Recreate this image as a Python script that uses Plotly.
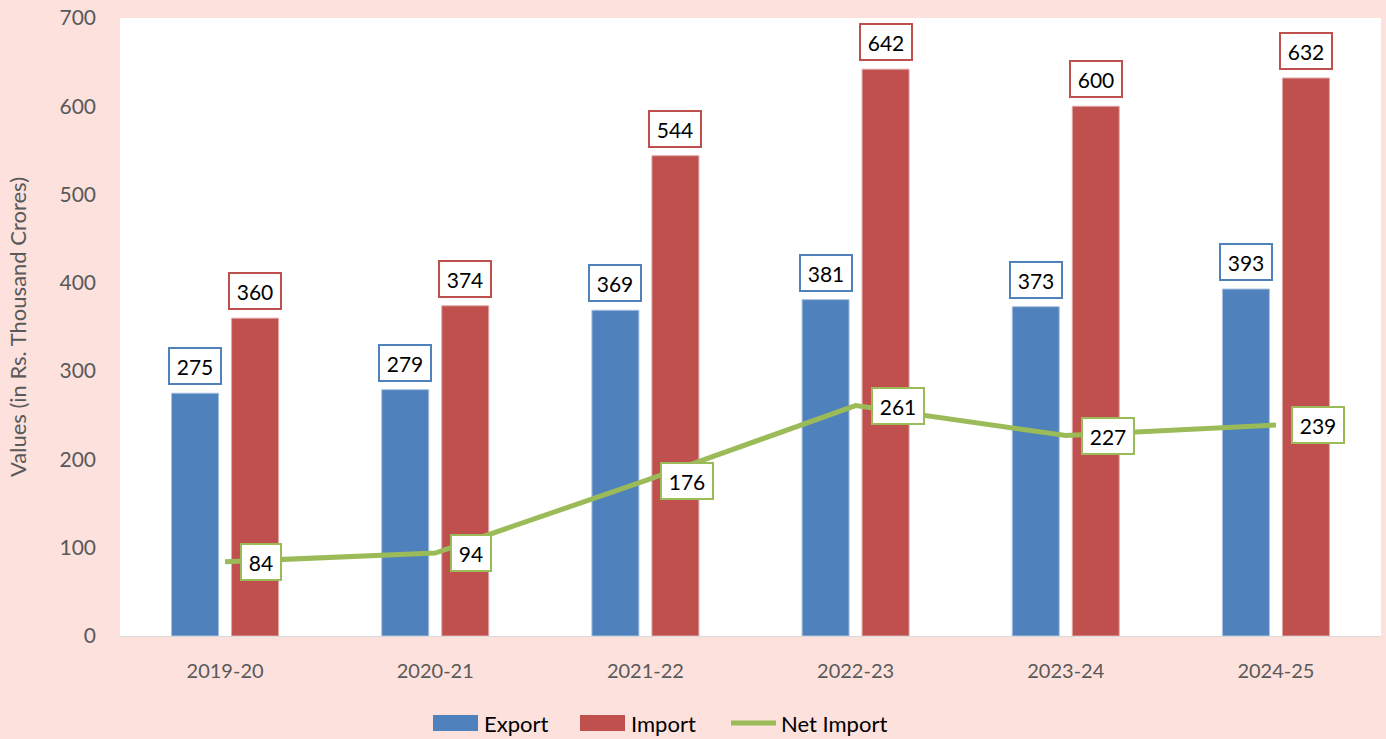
import plotly.graph_objects as go

years = ["2019-20", "2020-21", "2021-22", "2022-23", "2023-24", "2024-25"]
export_vals = [275, 279, 369, 381, 373, 393]
import_vals = [360, 374, 544, 642, 600, 632]
net_import = [84, 94, 176, 261, 227, 239]

C_EXP = "#4F81BD"
C_IMP = "#C0504D"
C_NET = "#9BBB59"
BG = "#FCE1DD"
FONT = "Lato, 'Open Sans', sans-serif"

fig = go.Figure()
fig.add_trace(go.Bar(x=years, y=export_vals, name="Export", showlegend=False,
                     marker=dict(color=C_EXP, line=dict(color="#A9C1E0", width=1))))
fig.add_trace(go.Bar(x=years, y=import_vals, name="Import", showlegend=False,
                     marker=dict(color=C_IMP, line=dict(color="#E0A8A6", width=1))))
fig.add_trace(go.Scatter(x=years, y=net_import, name="Net Import", mode="lines", showlegend=False,
                         line=dict(color=C_NET, width=5)))


def box_w(v):
    return 12 * len(str(v)) + 14


anns = []
for yr, v in zip(years, export_vals):
    anns.append(dict(x=yr, y=v, xref="x", yref="y", text=str(v), showarrow=False,
                     xshift=-30, yanchor="bottom", yshift=8, width=box_w(v), height=34,
                     font=dict(size=21, color="black", family=FONT),
                     bgcolor="white", bordercolor=C_EXP, borderwidth=2, borderpad=0))
for yr, v in zip(years, import_vals):
    anns.append(dict(x=yr, y=v, xref="x", yref="y", text=str(v), showarrow=False,
                     xshift=30, yanchor="bottom", yshift=8, width=box_w(v), height=34,
                     font=dict(size=21, color="black", family=FONT),
                     bgcolor="white", bordercolor=C_IMP, borderwidth=2, borderpad=0))
for yr, v in zip(years, net_import):
    anns.append(dict(x=yr, y=v, xref="x", yref="y", text=str(v), showarrow=False,
                     xanchor="left", xshift=15, yanchor="middle", width=box_w(v), height=34,
                     font=dict(size=21, color="black", family=FONT),
                     bgcolor="white", bordercolor=C_NET, borderwidth=2, borderpad=0))

# manual legend (paper coordinates)
PW, PH = 1261.0, 618.0


def px2x(px):
    return (px - 120) / PW


def py2y(py):
    return (636 - py) / PH


shapes = [
    dict(type="rect", xref="paper", yref="paper", x0=px2x(433), x1=px2x(478), y0=py2y(731), y1=py2y(715),
         fillcolor=C_EXP, line=dict(width=0)),
    dict(type="rect", xref="paper", yref="paper", x0=px2x(580), x1=px2x(625), y0=py2y(731), y1=py2y(715),
         fillcolor=C_IMP, line=dict(width=0)),
    dict(type="line", xref="paper", yref="paper", x0=px2x(731), x1=px2x(776), y0=py2y(723), y1=py2y(723),
         line=dict(color=C_NET, width=5)),
]
for label, px in [("Export", 482), ("Import", 629), ("Net Import", 779)]:
    anns.append(dict(x=px2x(px), y=py2y(723), xref="paper", yref="paper", text=label, showarrow=False,
                     xanchor="left", yanchor="middle", font=dict(size=22, color="black", family=FONT)))

fig.update_layout(
    width=1386, height=739,
    paper_bgcolor=BG, plot_bgcolor="white",
    margin=dict(l=120, r=5, t=18, b=103),
    barmode="group", bargap=0.429, bargroupgap=0.217,
    font=dict(family=FONT, color="#595959"),
    annotations=anns, shapes=shapes,
    showlegend=False,
)
fig.update_xaxes(showgrid=False, showline=True, linecolor="#D9D9D9", linewidth=1,
                 tickfont=dict(size=20, color="#595959"), ticks="", ticklabelstandoff=17)
fig.update_yaxes(range=[0, 700], dtick=100, showgrid=False, zeroline=False,
                 tickfont=dict(size=21, color="#595959"), ticks="", ticklabelstandoff=23,
                 title=dict(text="Values (in Rs. Thousand Crores)", font=dict(size=22, color="#595959"), standoff=26))

fig.write_html("out.html", config={"displayModeBar": False},
               post_script="document.body.style.margin='0';document.body.style.overflow='hidden';")
